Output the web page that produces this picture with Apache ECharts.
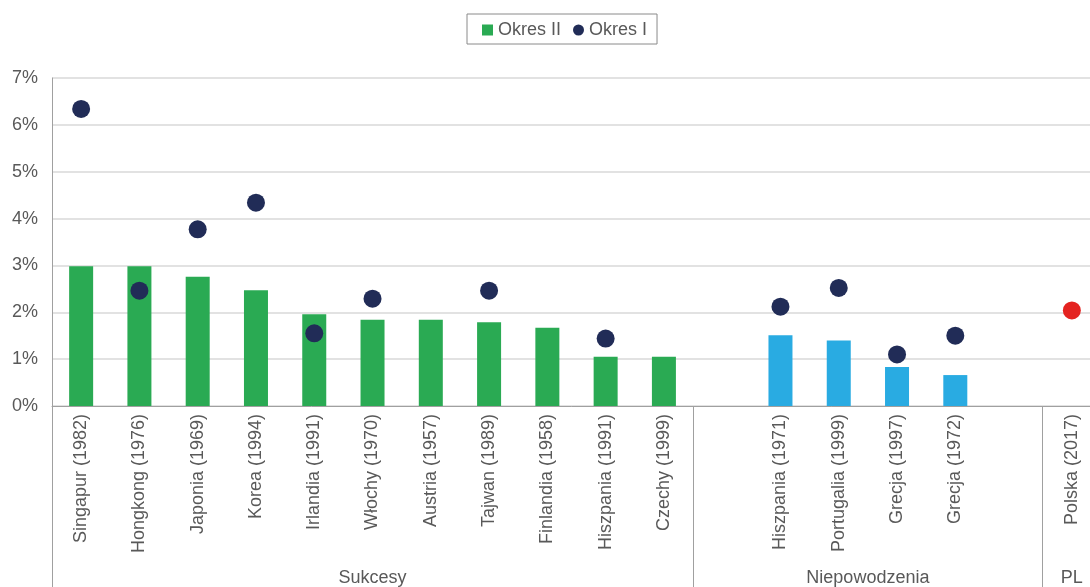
<!DOCTYPE html>
<html>
<head>
<meta charset="utf-8">
<script src="https://cdn.jsdelivr.net/npm/echarts@6/dist/echarts.min.js"></script>
<style>
html,body{margin:0;padding:0;background:#fff;}
#chart{width:1090px;height:587px;}
</style>
</head>
<body>
<div id="chart"></div>
<script>
// ---- data ----
var categories = ['Singapur (1982)', 'Hongkong (1976)', 'Japonia (1969)', 'Korea (1994)', 'Irlandia (1991)',
  'Włochy (1970)', 'Austria (1957)', 'Tajwan (1989)', 'Finlandia (1958)', 'Hiszpania (1991)', 'Czechy (1999)',
  '', 'Hiszpania (1971)', 'Portugalia (1999)', 'Grecja (1997)', 'Grecja (1972)', ' ',
  'Polska (2017)'];
var okresII = [2.98, 2.98, 2.76, 2.47, 1.96, 1.84, 1.84, 1.79, 1.67, 1.05, 1.05,
  null, 1.51, 1.40, 0.83, 0.66, null, null];
var okresI = [6.34, 2.46, 3.77, 4.34, 1.55, 2.29, null, 2.46, null, 1.44, null,
  null, 2.12, 2.52, 1.10, 1.50, null, 2.04];
var groupNames = ['Sukcesy', 'Niepowodzenia', 'PL'];
var groupSizes = [11, 6, 1];
var yTicks = [0, 1, 2, 3, 4, 5, 6, 7];

// ---- styling ----
var FONT = 'Liberation Sans, Arial, Helvetica, sans-serif';
var TEXT = '#595959';
var AXIS = '#a0a0a0';
var barColors = ['#2aaa53', '#29abe2', '#29abe2'];
var dotColors = ['#212c57', '#212c57', '#e42320'];

// group helpers
var boundaries = [0];
var centers = [];
(function () {
  var acc = 0;
  for (var i = 0; i < groupSizes.length; i++) {
    centers.push(acc + groupSizes[i] / 2);
    acc += groupSizes[i];
    boundaries.push(acc);
  }
})();
function groupOf(idx) {
  for (var g = 0; g < groupSizes.length; g++) {
    if (idx < boundaries[g + 1]) return g;
  }
  return groupSizes.length - 1;
}

var chart = echarts.init(document.getElementById('chart'), null, {renderer: 'canvas'});
chart.setOption({
  animation: false,
  backgroundColor: '#ffffff',
  textStyle: {fontFamily: FONT},
  legend: {
    left: 467,
    top: 14,
    selectedMode: false,
    borderColor: '#8a8a8a',
    borderWidth: 1,
    padding: [7, 10, 5, 15],
    itemGap: 12,
    itemWidth: 11,
    itemHeight: 11,
    textStyle: {fontFamily: FONT, fontSize: 18, color: TEXT},
    data: [
      {name: 'Okres II', icon: 'rect'},
      {name: 'Okres I', icon: 'circle'}
    ]
  },
  grid: {left: 52, top: 78, width: 1049, height: 328, outerBoundsMode: 'none', containLabel: false},
  xAxis: [
    {
      type: 'category',
      data: categories,
      boundaryGap: true,
      axisLine: {show: true, lineStyle: {color: AXIS, width: 1}},
      axisTick: {show: false},
      axisLabel: {
        interval: 0,
        rotate: 90,
        margin: 8,
        fontFamily: FONT,
        fontSize: 18,
        color: TEXT
      },
      splitLine: {show: false}
    },
    {
      type: 'value',
      position: 'bottom',
      min: 0,
      max: boundaries[boundaries.length - 1],
      axisLine: {show: false},
      splitLine: {show: false},
      axisTick: {
        show: true,
        customValues: boundaries.slice(0, boundaries.length - 1),
        length: 182,
        lineStyle: {color: AXIS, width: 1}
      },
      axisLabel: {
        show: true,
        customValues: centers,
        margin: 163,
        fontFamily: FONT,
        fontSize: 18,
        color: TEXT,
        formatter: function (v) {
          for (var i = 0; i < centers.length; i++) {
            if (Math.abs(centers[i] - v) < 1e-6) return groupNames[i];
          }
          return '';
        }
      }
    }
  ],
  yAxis: {
    type: 'value',
    min: yTicks[0],
    max: yTicks[yTicks.length - 1],
    interval: 1,
    axisLine: {show: true, lineStyle: {color: AXIS, width: 1}},
    axisTick: {show: false},
    axisLabel: {
      margin: 14,
      fontFamily: FONT,
      fontSize: 18,
      color: TEXT,
      formatter: '{value}%'
    },
    splitLine: {show: true, lineStyle: {color: '#d9d9d9', width: 1.5}}
  },
  series: [
    {
      name: 'Okres II',
      type: 'bar',
      xAxisIndex: 0,
      barWidth: 24,
      data: okresII,
      itemStyle: {
        color: function (p) { return barColors[groupOf(p.dataIndex)]; }
      }
    },
    {
      name: 'Okres I',
      type: 'scatter',
      xAxisIndex: 0,
      symbol: 'circle',
      symbolSize: 18,
      data: okresI,
      itemStyle: {
        color: function (p) { return dotColors[groupOf(p.dataIndex)]; },
        opacity: 1
      },
      z: 3
    }
  ],
  color: ['#2aaa53', '#212c57']
});
</script>
</body>
</html>
